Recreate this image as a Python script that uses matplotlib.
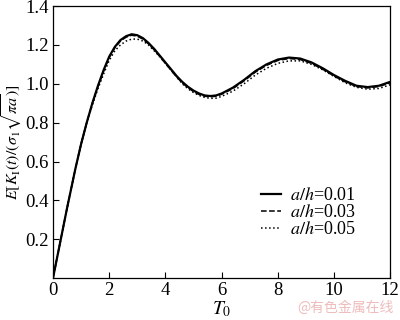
import matplotlib
matplotlib.use("Agg")
import matplotlib.pyplot as plt

plt.rcParams["font.family"] = ["Liberation Serif", "DejaVu Serif"]
plt.rcParams["mathtext.fontset"] = "stix"

# 数据
t0 = [0, 0.5, 0.8, 1.0, 1.2, 1.4, 1.6, 1.8, 2.0, 2.2, 2.4, 2.6, 2.8, 3.0, 3.2, 3.4,
      3.6, 3.8, 4.0, 4.2, 4.4, 4.6, 4.8, 5.0, 5.2, 5.4, 5.6, 5.8, 6.0, 6.4,
      6.8, 7.2, 7.6, 8.0, 8.4, 8.8, 9.2, 9.6, 10.0, 10.4, 10.8, 11.2, 11.6, 12.0]
k_001 = [0, 0.36, 0.565, 0.69, 0.80, 0.90, 0.99, 1.07, 1.14, 1.19, 1.225, 1.245, 1.255,
         1.25, 1.235, 1.21, 1.18, 1.145, 1.11, 1.075, 1.04, 1.01, 0.985, 0.965,
         0.95, 0.94, 0.937, 0.94, 0.95, 0.98, 1.02, 1.065, 1.10, 1.125, 1.135,
         1.13, 1.11, 1.08, 1.045, 1.015, 0.99, 0.983, 0.99, 1.01]
k_003 = [0, 0.36, 0.565, 0.69, 0.80, 0.90, 0.985, 1.065, 1.135, 1.185, 1.22, 1.24, 1.25,
         1.245, 1.23, 1.205, 1.175, 1.14, 1.105, 1.07, 1.035, 1.005, 0.98, 0.96,
         0.945, 0.936, 0.933, 0.936, 0.946, 0.975, 1.015, 1.06, 1.095, 1.12, 1.13,
         1.125, 1.105, 1.075, 1.04, 1.01, 0.986, 0.979, 0.986, 1.005]
k_005 = [0, 0.36, 0.565, 0.69, 0.80, 0.89, 0.975, 1.05, 1.12, 1.17, 1.20, 1.22, 1.23,
         1.23, 1.22, 1.20, 1.17, 1.14, 1.105, 1.07, 1.035, 1.0, 0.975, 0.955,
         0.94, 0.93, 0.925, 0.926, 0.935, 0.962, 1.0, 1.045, 1.08, 1.105, 1.118,
         1.118, 1.10, 1.072, 1.038, 1.005, 0.982, 0.972, 0.976, 0.995]
labels = [r"$a/h$=0.01", r"$a/h$=0.03", r"$a/h$=0.05"]

fig = plt.figure(figsize=(4.0, 3.2), dpi=100)
ax = fig.add_axes([0.1325, 0.131, 0.843, 0.85])

ax.plot(t0, k_001, "k-", lw=1.6, label=labels[0])
ax.plot(t0, k_003, "k--", lw=1.1, label=labels[1])
ax.plot(t0, k_005, "k:", lw=1.1, label=labels[2])

ax.set_xlim(0, 12)
ax.set_ylim(0, 1.4)
ax.set_xticks([0, 2, 4, 6, 8, 10, 12])
ax.set_yticks([0.2, 0.4, 0.6, 0.8, 1.0, 1.2, 1.4])
ax.set_yticklabels(["0.2", "0.4", "0.6", "0.8", "1.0", "1.2", "1.4"])
ax.tick_params(direction="in", length=4, width=0.8, labelsize=13.5,
               top=False, right=False, pad=3)
for s in ax.spines.values():
    s.set_linewidth(0.9)

ax.set_xlabel(r"$T_0$", fontsize=14, labelpad=0)
ax.set_ylabel(r"$E[K_{\rm I}(t)/(\sigma_1\sqrt{\pi a})]$", fontsize=11.5, labelpad=1)

leg = ax.legend(loc="lower right", bbox_to_anchor=(0.935, 0.1), frameon=False,
                fontsize=13, handlelength=1.1, handletextpad=0.5,
                labelspacing=0.0, borderpad=0.2)

fig.text(0.985, 0.015, "@有色金属在线", color="#eebcbc", fontsize=10,
         ha="right", va="bottom", family=["Noto Sans CJK SC", "DejaVu Sans"])

fig.savefig("out.png", dpi=100)
